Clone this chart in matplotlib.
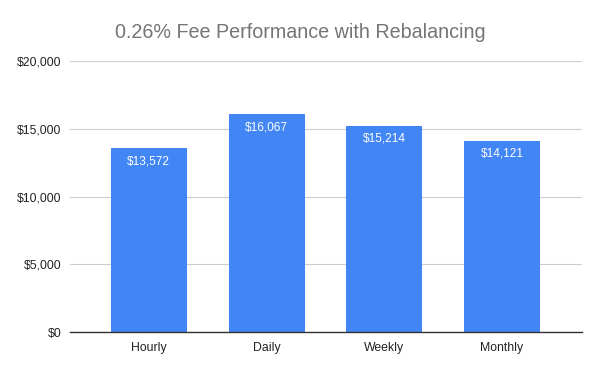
import matplotlib
matplotlib.use("Agg")
import matplotlib.pyplot as plt

categories = ["Hourly", "Daily", "Weekly", "Monthly"]
values = [13572, 16067, 15214, 14121]
yticks = [0, 5000, 10000, 15000, 20000]
title = "0.26% Fee Performance with Rebalancing"

plt.rcParams['font.family'] = ['Liberation Sans', 'DejaVu Sans']
fig = plt.figure(figsize=(6, 3.71), dpi=100)
ax = fig.add_axes([70/600, (371-332)/371, 512/600, (332-61)/371])

x = list(range(len(categories)))
bars = ax.bar(x, values, width=0.646, color="#4285F4", zorder=3)
for b, v in zip(bars, values):
    ax.annotate(f"${v:,}", (b.get_x() + b.get_width()/2, v), xytext=(0, -5),
                textcoords="offset points", ha="center", va="top",
                color="white", fontsize=8.6, zorder=4)

ax.set_xlim(-0.67, 3.68)
ax.set_ylim(0, 20000)
ax.set_yticks(yticks)
ax.set_yticklabels([f"${t:,}" for t in yticks])
ax.set_xticks(x)
ax.set_xticklabels(categories)
ax.tick_params(axis='both', length=0, labelsize=8.8, colors="#222222")
ax.tick_params(axis='y', pad=6)
ax.tick_params(axis='x', pad=7)
ax.grid(axis='y', color="#cccccc", linewidth=0.8, zorder=0)
for s in ['top', 'right', 'left']:
    ax.spines[s].set_visible(False)
ax.spines['bottom'].set_color("#333333")
ax.spines['bottom'].set_linewidth(1.0)
ax.spines['bottom'].set_zorder(5)

fig.text(0.5, 1 - 32.5/371, title, ha="center", va="center", fontsize=14.2, color="#757575")
fig.savefig("out.png", dpi=100)
